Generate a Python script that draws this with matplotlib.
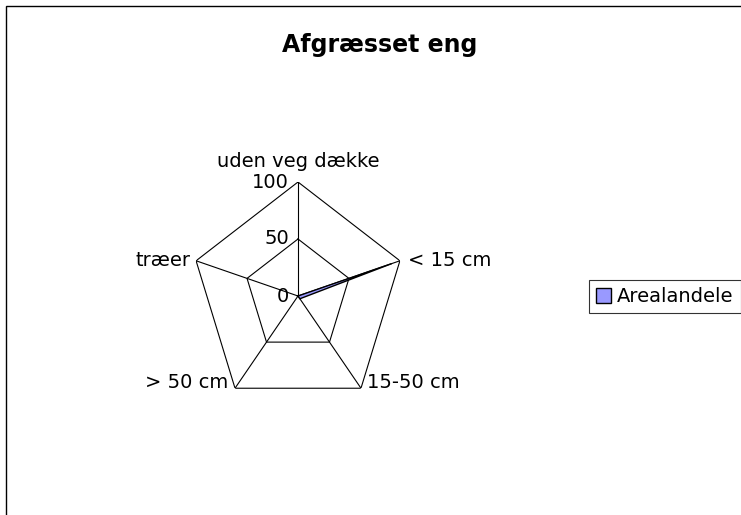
import matplotlib
matplotlib.use("Agg")
import matplotlib.pyplot as plt
import numpy as np
from matplotlib.patches import Rectangle, Patch

# data
categories = ["uden veg dække", "< 15 cm", "15-50 cm", "> 50 cm", "træer"]
arealandele = [0, 92, 3, 0, 1]
rticks = [0, 50, 100]
series_name = "Arealandele"
title = "Afgræsset eng"

W, H = 741, 515
fig = plt.figure(figsize=(W / 100, H / 100), dpi=100)

# chart area border (only left/top visible in the picture)
fig.patches.append(Rectangle((6 / W, -0.1), 1.2, (H - 6) / H + 0.1,
                             transform=fig.transFigure, fill=False,
                             edgecolor="black", linewidth=1.0))

cx, cy, r = 298, 296, 114
rx = r * 0.94  # the pentagon is a bit narrower than tall
ax = fig.add_axes([(cx - rx) / W, (H - cy - r) / H, 2 * rx / W, 2 * r / H],
                  projection="polar")
ax.set_aspect("auto")
ax.set_theta_offset(np.pi / 2)
ax.set_theta_direction(-1)
ax.set_ylim(0, 100)
ax.axis("off")

n = len(categories)
angles = np.linspace(0, 2 * np.pi, n, endpoint=False)
ang_closed = np.append(angles, angles[0])

# pentagon grid
for t in rticks[1:]:
    ax.plot(ang_closed, [t] * (n + 1), color="black", linewidth=0.8)
for a in angles:
    ax.plot([a, a], [0, 100], color="black", linewidth=0.8)

# data series
vals = np.append(arealandele, arealandele[0])
ax.fill(ang_closed, vals, facecolor="#9999FF", edgecolor="black",
        linewidth=1.0, zorder=3)

fs = 14
# radial tick labels along the top spoke
for t in rticks:
    ax.annotate(str(t), xy=(0, t), xycoords="data", xytext=(-6.5, 0),
                textcoords="offset points", ha="right", va="center",
                fontsize=fs)

# category labels: (ha, va, offset in points)
placing = [("center", "baseline", (0, 11)),
           ("left", "center", (6, 0)),
           ("left", "baseline", (4, 0)),
           ("right", "baseline", (-5, 0)),
           ("right", "center", (-4, 0))]
for a, lab, (ha, va, off) in zip(angles, categories, placing):
    ax.annotate(lab, xy=(a, 100), xycoords="data", xytext=off,
                textcoords="offset points", ha=ha, va=va, fontsize=fs)

fig.text(380 / W, 1 - 52 / H, title, ha="center", va="baseline",
         fontsize=17, fontweight="bold")

leg = fig.legend(handles=[Patch(facecolor="#9999FF", edgecolor="black",
                                label=series_name)],
                 loc="center left", bbox_to_anchor=(589 / W, 1 - 296.5 / H),
                 fontsize=fs, frameon=True, fancybox=False,
                 handlelength=0.8, handleheight=0.8, handletextpad=0.3,
                 borderpad=0.35, borderaxespad=0)
leg.get_frame().set_edgecolor("black")
leg.get_frame().set_linewidth(0.8)

fig.savefig("out.png", dpi=100)
